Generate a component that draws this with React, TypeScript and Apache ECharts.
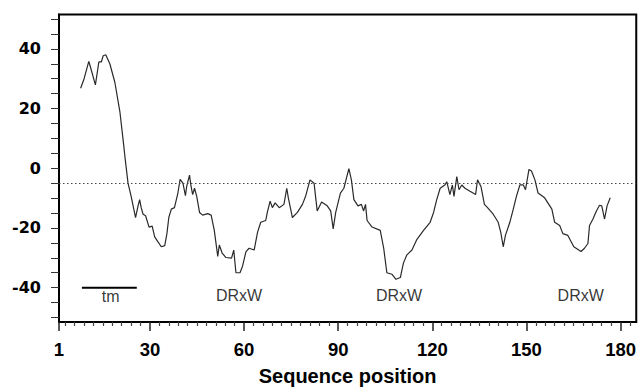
import React, { useEffect, useRef } from "react";
import * as echarts from "echarts";

// Sequence positions and profile values
const positions: number[] = [
  7.9, 9, 10.5, 11, 12.6, 13.7, 14.5, 15.1, 15.9, 17.2, 18.8, 20.4, 21.6, 22, 23, 24, 25.4, 26.2, 26.7, 27.2,
  27.8, 28.6, 29.7, 30.7, 31.5, 32.5, 33.6, 34.7, 35.4, 36, 36.8, 37.8, 38.9, 39.6, 40.5, 41.3, 41.7, 42.6,
  43.1, 43.6, 44.2, 44.9, 45.8, 46.8, 48.4, 49.5, 50.5, 51.6, 52.1, 53, 54.2, 56, 56.7, 57.4, 58.7, 59.5,
  60.6, 61.6, 63.2, 64.3, 65.3, 66.9, 67.4, 68.3, 69, 69.9, 71.2, 72.7, 73.6, 74.1, 75.4, 77, 78.6, 79.6,
  81, 82.3, 83.3, 84.7, 86.5, 87.6, 88.4, 89.2, 90.7, 91.8, 93.4, 94.2, 95, 96.3, 97.4, 98.1, 98.7, 99.2,
  100.8, 103.4, 104.5, 105.5, 107.1, 108.4, 109.8, 110.8, 111.9, 113.5, 115.1, 117.2, 119.3, 120.4, 121.4,
  122.5, 124, 124.6, 125.6, 126.4, 126.9, 127.8, 128.5, 129.4, 130.4, 132, 133.8, 134.4, 135.5, 136.6,
  137.6, 139.4, 141, 141.8, 142.6, 143.3, 144.7, 145.8, 146.8, 147.9, 149, 149.7, 150.8, 151.6, 152.7,
  153.7, 155.8, 158.1, 159, 160.6, 161.6, 163.2, 165.1, 167.4, 168.5, 169.6, 170.1, 171.2, 172.3, 173.3,
  174, 174.9, 175.7, 176.7,
];
const values: number[] = [
  26.8, 30, 35.8, 34, 27.9, 35.6, 35.6, 37.7, 38, 35, 28.8, 19, 8, 4, -5, -9.4, -16.5, -12.6, -10.5, -13.2,
  -15.4, -15.9, -19.7, -19.4, -23, -24.6, -26.3, -25.9, -21.9, -16.5, -13.7, -13.2, -8.3, -3.7, -5, -9.2, -6.1, -2.3,
  -6.1, -8.8, -6.7, -9.4, -14.8, -15.7, -15.2, -15.7, -20.8, -29.5, -25.7, -28.4, -29.9, -30.1, -27.4, -35, -35, -32.8,
  -27.9, -26.8, -27.4, -21.4, -18.1, -17.5, -14.8, -11, -13.2, -11.6, -13.2, -12.1, -6.7, -9.9, -16.5, -14.8, -12.1, -9.4,
  -3.9, -5, -14.3, -11.3, -12.6, -14.3, -20.3, -14.8, -8.3, -6.7, -0.1, -3.9, -10.5, -12.6, -12.1, -14.3, -12.1, -17.5,
  -19.7, -20.8, -26.8, -35, -35.5, -37.2, -36.6, -31.7, -29, -27.4, -23.8, -20.8, -18.1, -14.8, -10.5,
  -6.7, -5.6, -4.5, -8.8, -5.6, -9.4, -2.8, -7.2, -5.6, -6.7, -7.7, -8.8, -3.9, -6.1, -12.1,
  -13.2, -15.4, -18.1, -21.4, -26.3, -22.5, -18.1, -13.7, -9.4, -5.6, -5.6, -7.2, -0.4, -0.9, -3.9,
  -8.3, -9.9, -13.7, -18.1, -19.2, -21.9, -22.5, -26.3, -27.9, -26.8, -25.2, -19.2, -17, -14.3, -12.4,
  -12.6, -17, -12.6, -9.9,
];

const yTickValues: number[] = [-50, -45, -40, -35, -30, -25, -20, -15, -10, -5, 0, 5, 10, 15, 20, 25, 30, 35, 40, 45, 50];
const yLabelValues: number[] = [-40, -20, 0, 20, 40];
const xMajorValues: number[] = [1, 30, 60, 90, 120, 150, 180];
const xMinorValues: number[] = [
  3, 6, 9, 12, 15, 18, 21, 24, 27, 33, 36, 39, 42, 45, 48, 51, 54, 57, 63, 66, 69, 72, 75, 78, 81, 84, 87,
  93, 96, 99, 102, 105, 108, 111, 114, 117, 123, 126, 129, 132, 135, 138, 141, 144, 147, 153, 156, 159,
  162, 165, 168, 171, 174, 177, 183,
];
const thresholdValue = -5;
const tmStart = 8.3;
const tmEnd = 25.8;
const tmLevel = -40;
const annotationTexts: string[] = ["tm", "DRxW", "DRxW", "DRxW"];
const annotationX: number[] = [17.5, 58.4, 109.4, 167.3];
const annotationY: number[] = [-42.8, -42.6, -42.6, -42.6];

export default function App() {
  const ref = useRef<HTMLDivElement>(null);
  useEffect(() => {
    if (!ref.current) return;
    const chart = echarts.init(ref.current, null, { renderer: "svg" });
    const xCommon = { type: "value" as const, min: 1, max: 185, position: "bottom" as const };
    chart.setOption({
      animation: false,
      backgroundColor: "#ffffff",
      grid: {
        left: 59,
        right: 1.5,
        top: 14.5,
        bottom: 61.5,
        show: true,
        borderColor: "#000",
        borderWidth: 2,
        backgroundColor: "transparent",
      },
      xAxis: [
        {
          ...xCommon,
          axisLine: { show: true, onZero: false, lineStyle: { color: "#000", width: 2 } },
          axisTick: { show: true, length: 9, customValues: xMajorValues, lineStyle: { color: "#222", width: 1.5 } },
          axisLabel: {
            customValues: xMajorValues,
            margin: 18,
            color: "#000",
            fontFamily: "Liberation Sans",
            fontWeight: "bold",
            fontSize: 18.5,
          },
          splitLine: { show: false },
          name: "Sequence position",
          nameLocation: "middle",
          nameGap: 44,
          nameTextStyle: { color: "#000", fontFamily: "Liberation Sans", fontWeight: "bold", fontSize: 20 },
        },
        {
          ...xCommon,
          axisLine: { show: false, onZero: false },
          axisTick: { show: true, length: 4, customValues: xMinorValues, lineStyle: { color: "#444", width: 1.2 } },
          axisLabel: { show: false },
          splitLine: { show: false },
        },
      ],
      yAxis: {
        type: "value",
        min: -51.5,
        max: 51.5,
        axisLine: { show: true, onZero: false, lineStyle: { color: "#000", width: 2 } },
        axisTick: { show: true, length: 8, customValues: yTickValues, lineStyle: { color: "#333", width: 1 } },
        axisLabel: {
          customValues: yLabelValues,
          margin: 18,
          color: "#000",
          fontFamily: "DejaVu Sans",
          fontWeight: "bold",
          fontSize: 16,
        },
        splitLine: { show: false },
      },
      series: [
        {
          type: "line",
          data: positions.map((p, i) => [p, values[i]]),
          showSymbol: false,
          symbol: "none",
          lineStyle: { color: "#2a2a2a", width: 1.2 },
          markLine: {
            silent: true,
            symbol: ["none", "none"],
            label: { show: false },
            lineStyle: { type: [1.5, 2.5], color: "#444", width: 1 },
            data: [{ yAxis: thresholdValue }],
          },
          z: 3,
        },
        {
          type: "line",
          data: [
            [tmStart, tmLevel],
            [tmEnd, tmLevel],
          ],
          showSymbol: false,
          symbol: "none",
          lineStyle: { color: "#000", width: 2 },
        },
        {
          type: "scatter",
          symbolSize: 0,
          data: annotationTexts.map((t, i) => ({ name: t, value: [annotationX[i], annotationY[i]] })),
          label: {
            show: true,
            position: "inside",
            formatter: (p: any) => p.name,
            color: "#000",
            fontFamily: "Liberation Sans",
            fontSize: 16,
          },
        },
      ],
    });
    return () => chart.dispose();
  }, []);
  return <div ref={ref} style={{ position: "fixed", left: 0, top: 0, width: 639, height: 391 }} />;
}
